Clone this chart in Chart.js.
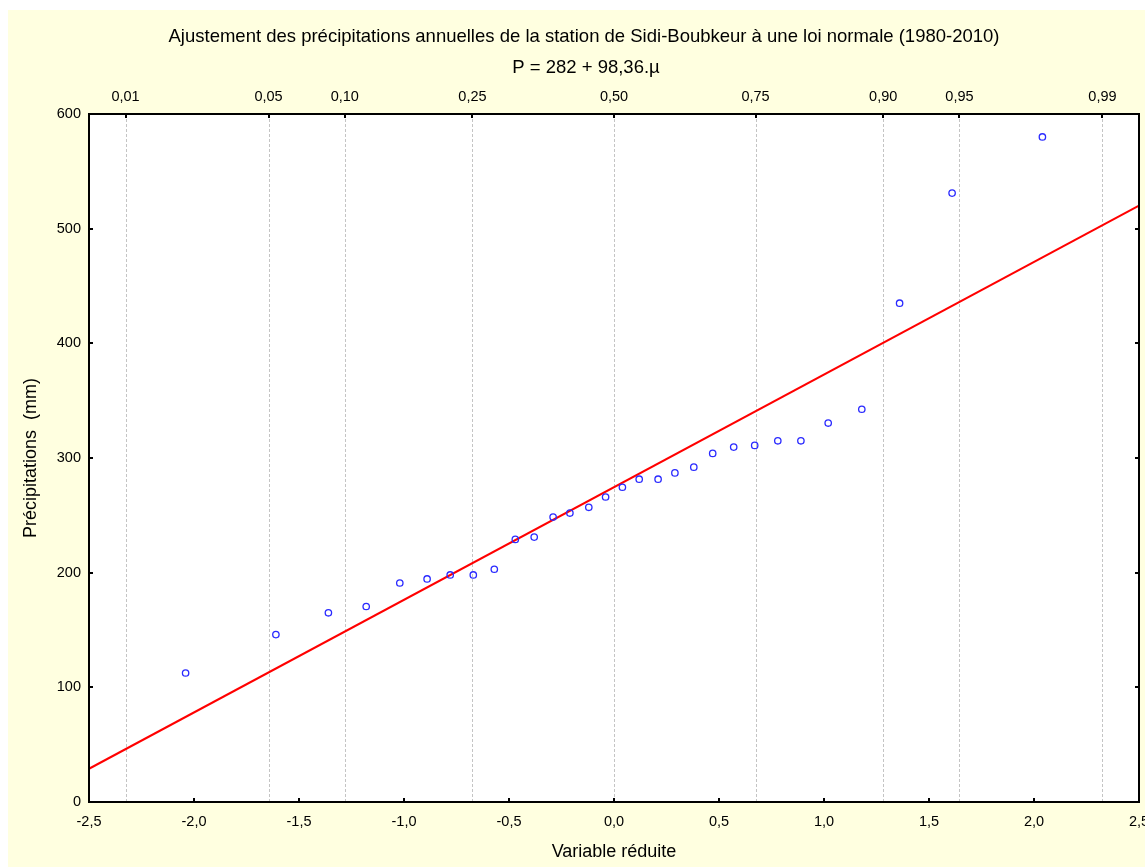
<!DOCTYPE html>
<html>
<head>
<meta charset="utf-8">
<script src="https://cdn.jsdelivr.net/npm/chart.js@4/dist/chart.umd.min.js"></script>
<style>
html,body{margin:0;padding:0;background:#ffffff;}
#wrap{position:absolute;left:8px;top:10px;width:1137px;height:857px;background:#FFFFE0;}
canvas{display:block;}
</style>
</head>
<body>
<div id="wrap"><canvas id="c" width="1137" height="857"></canvas></div>
<script>
// ---- Data ----
const titleText = "Ajustement des précipitations annuelles de la station de Sidi-Boubkeur à une loi normale (1980-2010)";
const subtitleText = "P = 282 + 98,36.µ";
const xAxisTitle = "Variable réduite";
const yAxisTitle = "Précipitations  (mm)";

// reduced normal variable (x) and observed annual precipitation (mm)
const reducedVariable = [-2.04, -1.61, -1.36, -1.18, -1.02, -0.89, -0.78, -0.67, -0.57, -0.47,
                         -0.38, -0.29, -0.21, -0.12, -0.04, 0.04, 0.12, 0.21, 0.29, 0.38,
                         0.47, 0.57, 0.67, 0.78, 0.89, 1.02, 1.18, 1.36, 1.61, 2.04];
const precipitation = [112.5, 146, 165, 170.5, 191, 194.5, 198, 198, 203, 229,
                       231, 248.5, 252, 257, 266, 274.5, 281.5, 281.5, 287, 292,
                       304, 309.5, 311, 315, 315, 330.5, 342.5, 435, 531, 580];

// fitted normal law line (as drawn)
const fitX = [-2.5, 2.5];
const fitY = [29, 520];

// top probability axis
const probLabels = ["0,01", "0,05", "0,10", "0,25", "0,50", "0,75", "0,90", "0,95", "0,99"];
const probPositions = [-2.326, -1.645, -1.282, -0.674, 0, 0.674, 1.282, 1.645, 2.326];

// bottom & left axes
const xTickValues = [-2.5, -2.0, -1.5, -1.0, -0.5, 0.0, 0.5, 1.0, 1.5, 2.0, 2.5];
const yTickValues = [0, 100, 200, 300, 400, 500, 600];

// ---- Chart ----
const FONT = "'Liberation Sans', Arial, sans-serif";
const fmt = v => (Math.abs(v) < 1e-9 ? 0 : v).toFixed(1).replace('.', ',');
const noSidePad = s => { s.paddingLeft = 0; s.paddingRight = 0; };

const decor = {
  id: 'decor',
  beforeDraw(chart) {
    const {ctx, chartArea: a} = chart;
    ctx.save();
    ctx.fillStyle = '#ffffff';
    ctx.fillRect(a.left, a.top, a.right - a.left, a.bottom - a.top);
    ctx.restore();
  },
  beforeDatasetsDraw(chart) {
    const {ctx, chartArea: a} = chart;
    const sx = chart.scales.x2;
    ctx.save();
    ctx.strokeStyle = '#c4c4c4';
    ctx.lineWidth = 1;
    ctx.setLineDash([3, 2]);
    probPositions.forEach(v => {
      const px = Math.round(sx.getPixelForValue(v)) + 0.5;
      ctx.beginPath();
      ctx.moveTo(px, a.top);
      ctx.lineTo(px, a.bottom);
      ctx.stroke();
    });
    ctx.restore();
  },
  afterDatasetsDraw(chart) {
    const {ctx, chartArea: a} = chart;
    const sx = chart.scales.x, sx2 = chart.scales.x2, sy = chart.scales.y;
    const TL = 4;
    ctx.save();
    ctx.strokeStyle = '#000000';
    ctx.lineWidth = 2;
    ctx.setLineDash([]);
    ctx.strokeRect(a.left, a.top, a.right - a.left, a.bottom - a.top);
    ctx.beginPath();
    xTickValues.forEach(v => {
      const px = Math.round(sx.getPixelForValue(v));
      ctx.moveTo(px, a.bottom);
      ctx.lineTo(px, a.bottom - TL);
    });
    probPositions.forEach(v => {
      const px = Math.round(sx2.getPixelForValue(v));
      ctx.moveTo(px, a.top);
      ctx.lineTo(px, a.top + TL);
    });
    yTickValues.forEach(v => {
      const py = Math.round(sy.getPixelForValue(v));
      ctx.moveTo(a.left, py);
      ctx.lineTo(a.left + TL, py);
      ctx.moveTo(a.right, py);
      ctx.lineTo(a.right - TL, py);
    });
    ctx.stroke();
    ctx.restore();
  },
  afterDraw(chart) {
    const {ctx} = chart;
    ctx.save();
    ctx.fillStyle = '#000000';
    ctx.textAlign = 'center';
    ctx.textBaseline = 'middle';
    ctx.font = '18.5px ' + FONT;
    ctx.fillText(titleText, 576, 27);
    ctx.fillText(subtitleText, 578, 58);
    ctx.restore();
  }
};

new Chart(document.getElementById('c'), {
  type: 'scatter',
  data: {
    datasets: [
      {
        type: 'line',
        data: fitX.map((x, i) => ({x: x, y: fitY[i]})),
        borderColor: '#ff0000',
        borderWidth: 2,
        pointRadius: 0,
        fill: false,
        order: 2
      },
      {
        type: 'scatter',
        data: reducedVariable.map((x, i) => ({x: x, y: precipitation[i]})),
        borderColor: '#2a2aff',
        backgroundColor: 'rgba(0,0,0,0)',
        borderWidth: 1.3,
        pointRadius: 3.2,
        order: 1
      }
    ]
  },
  options: {
    responsive: false,
    animation: false,
    devicePixelRatio: 1,
    layout: {padding: {left: 0, right: 6, top: 0, bottom: 0}},
    plugins: {legend: {display: false}, tooltip: {enabled: false}, title: {display: false}},
    scales: {
      x: {
        type: 'linear', position: 'bottom', min: -2.5, max: 2.5,
        afterBuildTicks: s => { s.ticks = xTickValues.map(v => ({value: v})); },
        afterFit: s => { s.height = 65; noSidePad(s); },
        ticks: {callback: v => fmt(v), font: {size: 14.5, family: FONT}, color: '#000', padding: 11, maxRotation: 0, autoSkip: false},
        grid: {display: false, drawTicks: false},
        border: {display: false},
        title: {display: true, text: xAxisTitle, font: {size: 18, family: FONT}, color: '#000', padding: {top: 0, bottom: 4}}
      },
      x2: {
        type: 'linear', position: 'top', min: -2.5, max: 2.5,
        afterBuildTicks: s => { s.ticks = probPositions.map(v => ({value: v})); },
        afterFit: s => { s.height = 104; noSidePad(s); },
        ticks: {callback: (v, i) => probLabels[i], font: {size: 14.5, family: FONT}, color: '#000', padding: 8, maxRotation: 0, autoSkip: false},
        grid: {display: false, drawTicks: false},
        border: {display: false}
      },
      y: {
        type: 'linear', position: 'left', min: 0, max: 600,
        afterBuildTicks: s => { s.ticks = yTickValues.map(v => ({value: v})); },
        afterFit: s => { s.width = 81; s.paddingTop = 0; s.paddingBottom = 0; },
        ticks: {callback: v => String(v), font: {size: 14.5, family: FONT}, color: '#000', padding: 8},
        grid: {display: false, drawTicks: false},
        border: {display: false},
        title: {display: true, text: yAxisTitle, font: {size: 18, family: FONT}, color: '#000', padding: {top: 12, bottom: 0}}
      }
    }
  },
  plugins: [decor]
});
</script>
</body>
</html>
